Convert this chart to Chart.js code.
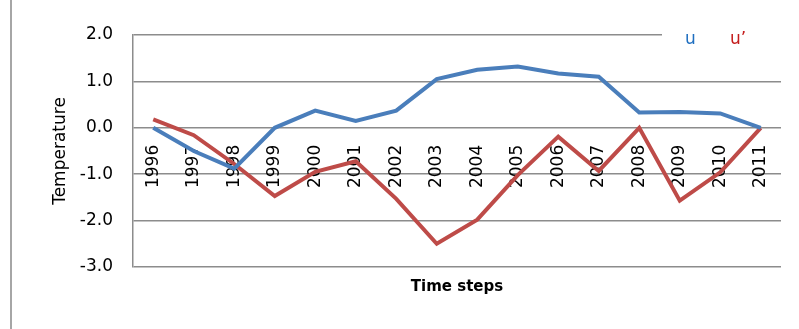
<!DOCTYPE html>
<html>
<head>
<meta charset="utf-8">
<script src="https://cdn.jsdelivr.net/npm/chart.js@4/dist/chart.umd.min.js"></script>
<style>
  html, body { margin: 0; padding: 0; background: #ffffff; }
  #wrap { width: 799px; height: 329px; position: relative; }
</style>
</head>
<body>
<div id="wrap"><canvas id="chart" width="799" height="329"></canvas></div>
<script>
// Categories (years) and the two temperature series
const years = ['1996', '1997', '1998', '1999', '2000', '2001', '2002', '2003',
               '2004', '2005', '2006', '2007', '2008', '2009', '2010', '2011'];
const uValues = [0.0, -0.5, -0.88, 0.0, 0.37, 0.15, 0.37, 1.05,
                 1.25, 1.32, 1.17, 1.1, 0.33, 0.34, 0.31, 0.0];
const uPrimeValues = [0.18, -0.16, -0.78, -1.47, -0.95, -0.72, -1.53, -2.5,
                      -1.98, -1.02, -0.19, -0.93, 0.0, -1.57, -0.96, 0.0];
const seriesNames = ['u', 'u\u2019'];
const yMin = -3.0, yMax = 2.0, yStep = 1.0;

const BLUE = '#4a7ebb';
const RED = '#be4b48';
const GRID = '#8c8c8c';
const FONT = 'DejaVu Sans';

// Thin frame line on the left edge of the chart area box
const frameLine = {
  id: 'frameLine',
  beforeDraw(chart) {
    const ctx = chart.ctx;
    ctx.save();
    ctx.strokeStyle = '#a6a6a6';
    ctx.lineWidth = 2;
    ctx.beginPath();
    ctx.moveTo(11, 0);
    ctx.lineTo(11, chart.height);
    ctx.stroke();
    ctx.restore();
  }
};

// Text-only key in the upper right corner, coloured like its series
const textKey = {
  id: 'textKey',
  afterDatasetsDraw(chart) {
    const ctx = chart.ctx;
    const area = chart.chartArea;
    ctx.save();
    ctx.fillStyle = '#ffffff';
    ctx.fillRect(662, area.top - 4, chart.width - 662, 16);
    ctx.font = '17px "' + FONT + '"';
    ctx.textBaseline = 'alphabetic';
    ctx.textAlign = 'left';
    const xs = [685, 730];
    const colors = ['#1f6fc0', '#c41c1c'];
    chart.data.datasets.forEach((ds, i) => {
      ctx.fillStyle = colors[i];
      ctx.fillText(ds.label, xs[i], area.top + 9);
    });
    ctx.restore();
  }
};

new Chart(document.getElementById('chart'), {
  type: 'line',
  data: {
    labels: years,
    datasets: [
      { label: seriesNames[0], data: uValues, borderColor: BLUE, backgroundColor: BLUE },
      { label: seriesNames[1], data: uPrimeValues, borderColor: RED, backgroundColor: RED }
    ]
  },
  options: {
    responsive: false,
    animation: false,
    devicePixelRatio: 1,
    layout: { padding: { top: 35, right: 18, left: 0, bottom: 0 } },
    elements: {
      line: { borderWidth: 4, tension: 0, borderCapStyle: 'butt', borderJoinStyle: 'miter' },
      point: { radius: 0, hoverRadius: 0 }
    },
    plugins: {
      legend: { display: false },
      tooltip: { enabled: false },
      title: {
        display: true,
        text: 'Time steps',
        position: 'bottom',
        fullSize: false,
        color: '#000000',
        font: { family: FONT, size: 15, weight: 'bold', lineHeight: 1.2 },
        padding: { top: 11, bottom: 33 }
      }
    },
    scales: {
      x: {
        type: 'category',
        position: { y: 0 },
        offset: true,
        grid: { display: false, drawTicks: false },
        border: { display: false },
        ticks: {
          autoSkip: false,
          minRotation: 90,
          maxRotation: 90,
          padding: 17,
          color: '#000000',
          font: { family: FONT, size: 17 }
        }
      },
      y: {
        min: yMin,
        max: yMax,
        afterFit(scale) { scale.width = 133; },
        grid: { color: GRID, lineWidth: 1.5, drawTicks: false },
        border: { display: true, color: GRID, width: 1.5 },
        ticks: {
          stepSize: yStep,
          padding: 20,
          color: '#000000',
          font: { family: FONT, size: 17 },
          callback: (v) => Number(v).toFixed(1)
        },
        title: {
          display: true,
          text: 'Temperature',
          color: '#000000',
          font: { family: FONT, size: 17 },
          padding: { top: 50, bottom: 0 }
        }
      }
    }
  },
  plugins: [frameLine, textKey]
});
</script>
</body>
</html>
